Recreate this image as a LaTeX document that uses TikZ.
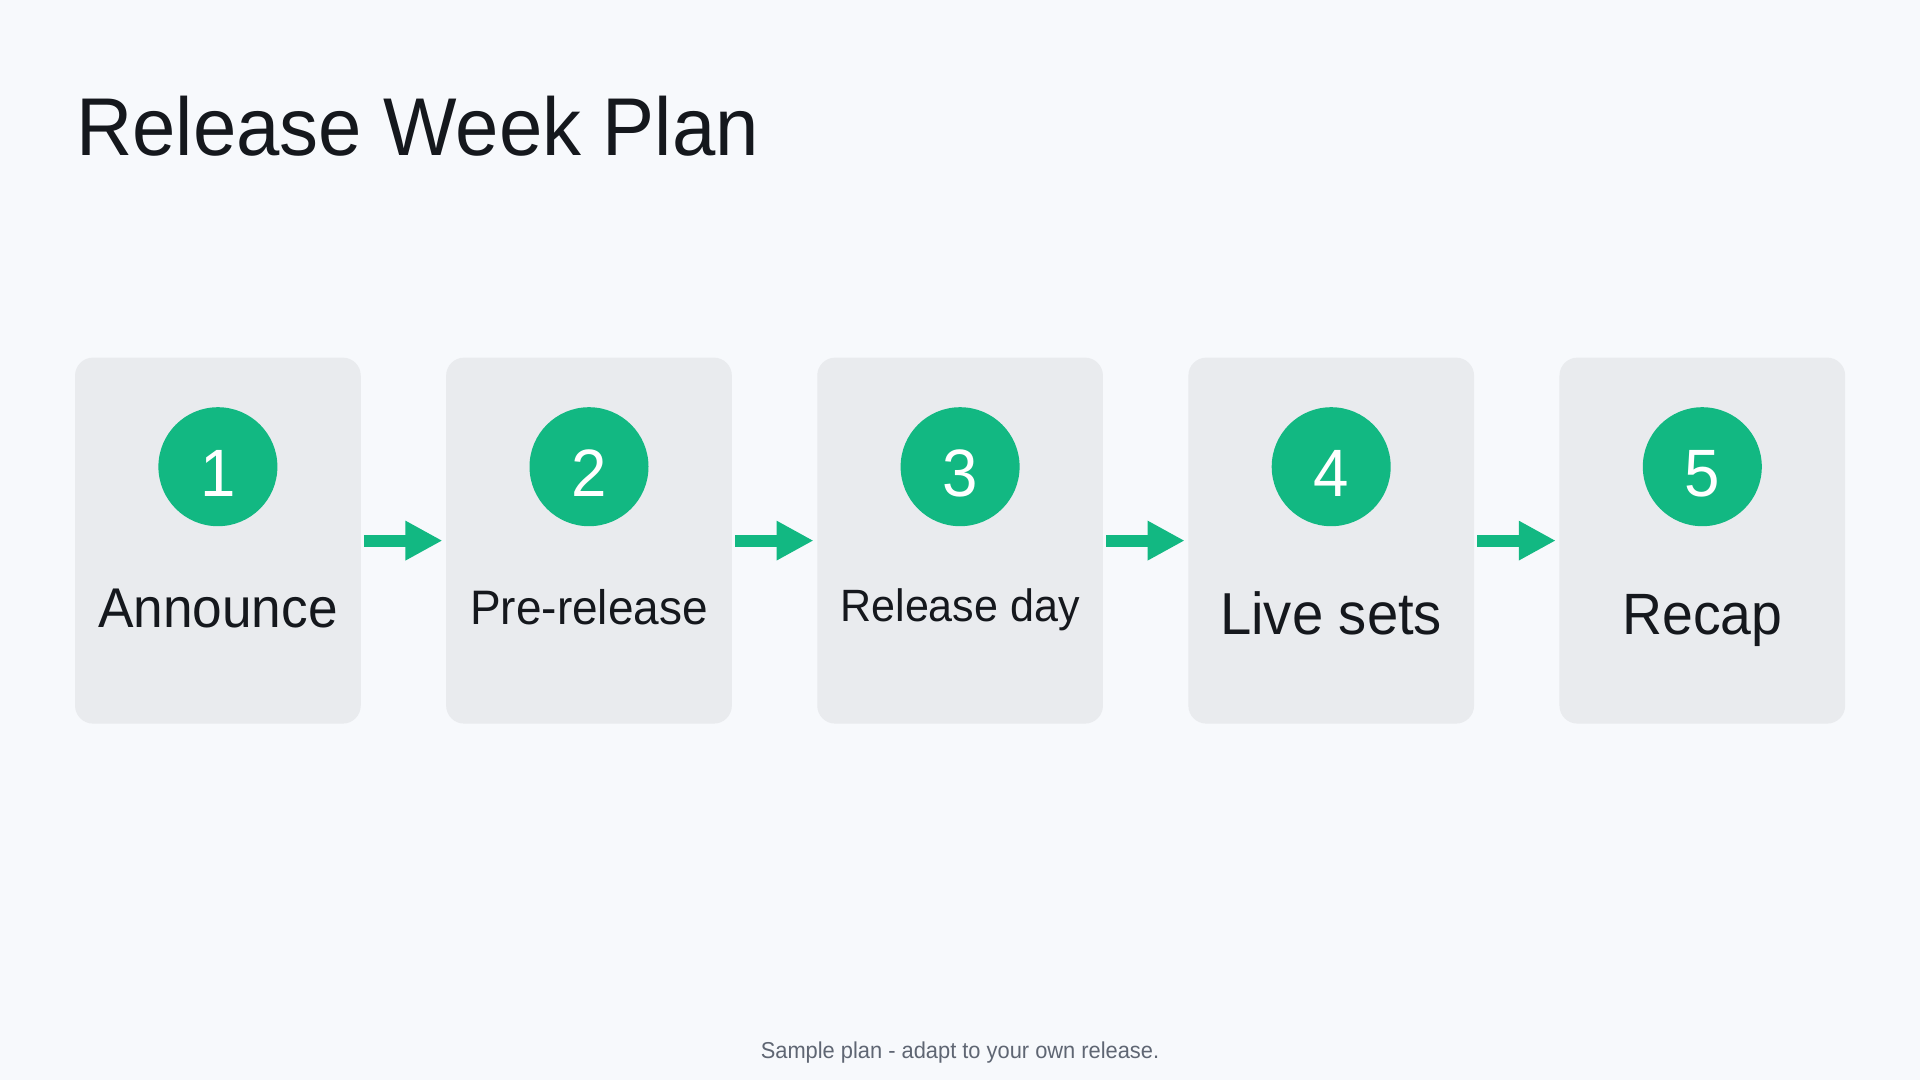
\documentclass[tikz,border=0pt]{standalone}
\usepackage{fontspec}
\setmainfont{Liberation Sans}[FakeStretch=0.95]
\usetikzlibrary{arrows.meta}
\definecolor{bg}{HTML}{F7F9FC}
\definecolor{cardfill}{HTML}{E9EBEE}
\definecolor{accent}{HTML}{12B882}
\definecolor{ink}{HTML}{15181D}
\definecolor{muted}{HTML}{5F6673}
\newcommand{\fsz}[1]{\fontsize{#1}{#1}\selectfont}
\begin{document}
\begin{tikzpicture}[x=1pt,y=-1pt,
  cardbox/.style={fill=cardfill, draw=none, rounded corners=18pt, minimum width=285.7pt, minimum height=366pt, inner sep=0pt},
  badge/.style={circle, fill=accent, draw=none, minimum size=119pt, inner sep=0pt, text=white, font=\fsz{67}, text height=60pt, text depth=0pt},
  lbl/.style={anchor=base, inner sep=0pt, text=ink},
  flow/.style={draw=accent, line width=12pt, -{Triangle[length=37pt, width=37pt]}, shorten <=3pt, shorten >=3.5pt}
]
\fill[bg] (0,0) rectangle (1920,1080);
\useasboundingbox (0,0) rectangle (1920,1080);

\node[anchor=base west, inner sep=0pt, text=ink, font=\fsz{82}] (title) at (76,155) {Release Week Plan};

\foreach \i/\x in {1/217.9, 2/589.0, 3/960.1, 4/1331.2, 5/1702.3}{
  \node[cardbox] (c\i) at (\x,540.6) {};
  \node[badge] (b\i) at (\x,466.7) {\i};
}

\node[lbl, font=\fsz{56}] (l1) at (217.9,627.5) {Announce};
\node[lbl, font=\fsz{48.4}] (l2) at (589.0,624.5) {Pre-release};
\node[lbl, font=\fsz{45.3}] (l3) at (960.1,621) {Release day};
\node[lbl, font=\fsz{59.2}] (l4) at (1331.2,634.5) {Live sets};
\node[lbl, font=\fsz{58.3}] (l5) at (1702.3,634.5) {Recap};

\draw[flow] (c1.east) -- (c2.west);
\draw[flow] (c2.east) -- (c3.west);
\draw[flow] (c3.east) -- (c4.west);
\draw[flow] (c4.east) -- (c5.west);

\node[anchor=base, inner sep=0pt, text=muted, font=\fsz{23}] (foot) at (960,1058) {Sample plan - adapt to your own release.};
\end{tikzpicture}
\end{document}
